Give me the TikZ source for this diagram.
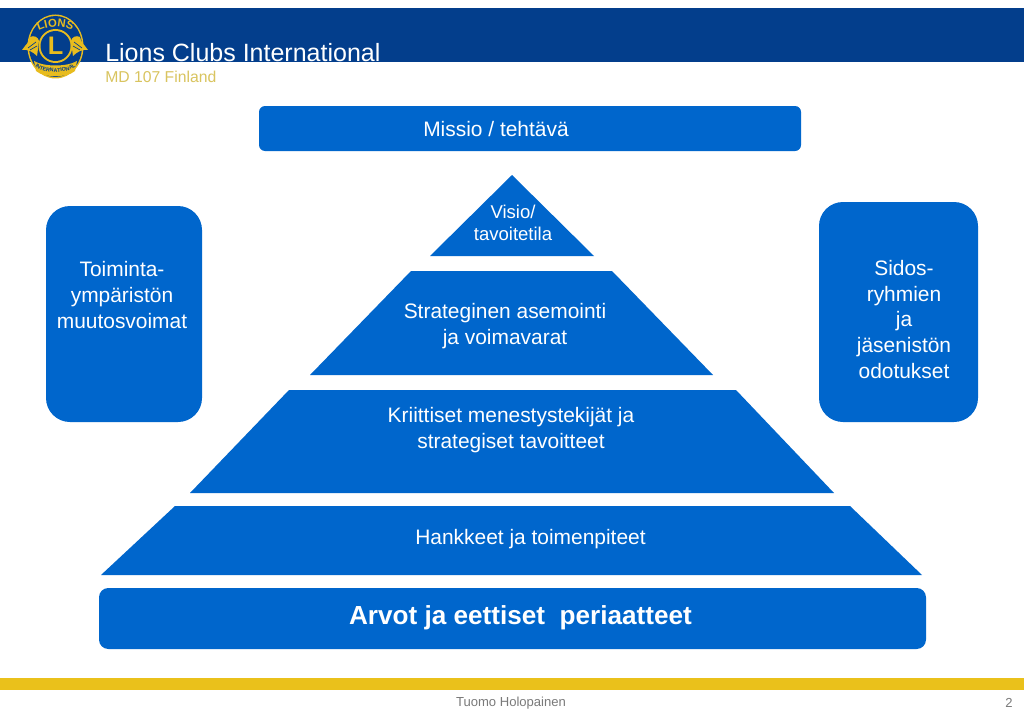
\documentclass[tikz,border=0pt]{standalone}
\usepackage{fontspec}
\setmainfont{Liberation Sans}
\usetikzlibrary{decorations.text}
\definecolor{hdr}{HTML}{033E8C}
\definecolor{blk}{HTML}{0066CC}
\definecolor{gold}{HTML}{EAC11B}
\definecolor{golds}{HTML}{D9C45F}
\definecolor{lgold}{HTML}{E8BC1E}
\definecolor{foot}{HTML}{7A7A7A}
\tikzset{
 x=0.75pt,y=-0.75pt,
 block/.style={fill=blk,draw=none},
 lbl/.style={text=white,align=center,font=\fontsize{15.7}{19.5}\selectfont,inner sep=0pt},
 slbl/.style={text=white,align=center,font=\fontsize{13.9}{16.5}\selectfont,inner sep=0pt},
 sidelbl/.style={text=white,align=center,font=\fontsize{15.7}{19.2}\selectfont,inner sep=0pt},
}
\begin{document}
\begin{tikzpicture}
\useasboundingbox (0,0) rectangle (1024,724);
\fill[white] (0,0) rectangle (1024,724);
% header
\fill[hdr] (0,8) rectangle (1024,62);
\fill[gold] (0,678) rectangle (1024,690);
% logo: medallion
\fill[lgold] (55.5,46.5) circle [x radius=28, y radius=32];
\fill[hdr] (55.5,46.5) circle [x radius=26.5, y radius=30.5];
% logo: lions
\fill[lgold] (22,50) .. controls (26,44) and (29,43) .. (30,37) .. controls (34,35) and (38,37) .. (39,41) .. controls (38,45) and (38,51) .. (37,56) .. controls (33,52) and (28,49) .. cycle;
\fill[lgold] (88,50) .. controls (84,44) and (81,43) .. (80,37) .. controls (76,35) and (72,37) .. (71,41) .. controls (72,45) and (72,51) .. (73,56) .. controls (77,52) and (82,49) .. cycle;
\draw[hdr,line width=0.5pt] (28,48) -- (36,42) (30,50) -- (37,46) (82,48) -- (74,42) (80,50) -- (73,46);
% logo: centre
\fill[lgold] (55.5,46) circle (17);
\fill[hdr] (55.5,46) circle (15);
\node[inner sep=0pt,text=lgold,font=\fontsize{19}{20}\selectfont\bfseries] (logoL) at (55.5,46) {L};
% logo: LIONS on arc
\path[decorate,decoration={text along path,text align=center,text={|\fontsize{8.5}{8.5}\selectfont\bfseries\color{lgold}|LIONS}}]
  (31,38) .. controls (39,23) and (72,23) .. (80,38);
% logo: banner
\fill[lgold] (34,61) .. controls (44,67) and (67,67) .. (77,61) -- (75,71) .. controls (67,78) and (44,78) .. (36,71) -- cycle;
\path[decorate,decoration={text along path,text align=center,text={|\fontsize{4}{4}\selectfont\bfseries\color{hdr}|INTERNATIONAL}}]
  (36,67) .. controls (45,74) and (66,74) .. (75,67);
% header text
\node[anchor=base west,inner sep=0pt,text=white,font=\fontsize{18.75}{20}\selectfont] (title) at (105,62) {Lions Clubs International};
\node[anchor=base west,inner sep=0pt,text=golds,font=\fontsize{11.8}{13}\selectfont] (sub) at (105,83) {MD 107 Finland};
% mission
\fill[block,rounded corners=4.5pt] (259,106) rectangle (801,151);
\node[lbl] (missio) at (496,129) {Missio / tehtävä};
% pyramid
\fill[block] (512,175) -- (594,256) -- (430,256) -- cycle;
\node[slbl] (visio) at (513,223) {Visio/\\tavoitetila};
\fill[block] (411,271) -- (612,271) -- (713,375) -- (310,375) -- cycle;
\node[lbl] (strat) at (505,326) {Strateginen asemointi\\ja voimavarat};
\fill[block] (289,390) -- (736,390) -- (834,493) -- (190,493) -- cycle;
\node[lbl] (krit) at (511,430) {Kriittiset menestystekijät ja\\strategiset tavoitteet};
\fill[block] (175,506) -- (850,506) -- (922,575) -- (101,575) -- cycle;
\node[lbl] (hank) at (530.5,539) {Hankkeet ja toimenpiteet};
\fill[block,rounded corners=7pt] (99,588) rectangle (926,649);
\node[text=white,inner sep=0pt,font=\fontsize{19.6}{22}\selectfont\bfseries] (arvot) at (520.5,618) {Arvot ja eettiset\ \ periaatteet};
% sides
\fill[block,rounded corners=18pt] (46,206) rectangle (202,422);
\node[sidelbl] (toim) at (122,295) {Toiminta-\\ympäristön\\muutosvoimat};
\fill[block,rounded corners=18pt] (819,202) rectangle (978,422);
\node[sidelbl] (sidos) at (904,319.5) {Sidos-\\ryhmien\\ja\\jäsenistön\\odotukset};
% footer
\node[inner sep=0pt,text=foot,font=\fontsize{9.8}{11}\selectfont] (tuomo) at (511,703) {Tuomo Holopainen};
\node[inner sep=0pt,text=foot,font=\fontsize{9.8}{11}\selectfont] (pg) at (1009,703) {2};
\end{tikzpicture}
\end{document}
